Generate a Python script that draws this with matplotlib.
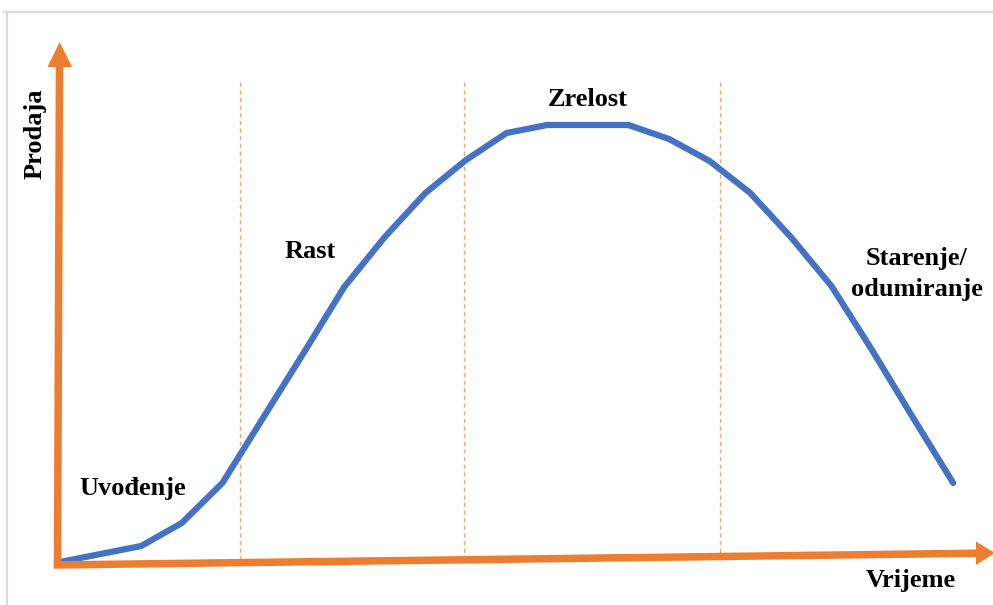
import matplotlib
matplotlib.use("Agg")
import matplotlib.pyplot as plt
from matplotlib.lines import Line2D
from matplotlib.patches import Polygon

# Data (period index vs. sales level)
periods = list(range(23))
sales = [4, 12, 20, 43, 83, 148, 213, 279, 329, 373, 406, 433, 441, 441, 441,
         427, 405, 373, 329, 280, 216, 149, 83]
phase_bounds = [4.43, 9.95, 16.26]
phase_labels = ["Uvođenje", "Rast", "Zrelost", "Starenje/\nodumiranje"]
x_label = "Vrijeme"
y_label = "Prodaja"

W, H = 993, 605
fig = plt.figure(figsize=(W / 100, H / 100), dpi=100)
ax = fig.add_axes([0, 0, 1, 1])
ax.set_xlim(-60 / 40.6, (W - 60) / 40.6)
ax.set_ylim(566 - H, 566)
ax.axis("off")

orange = "#ED7D31"
blue = "#4472C4"


def fp(x, y):
    """pixel (top-left origin) -> figure fraction"""
    return (x / W, 1 - y / H)


# phase separators
for b in phase_bounds:
    ax.plot([b, b], [6, 485], color="#F4A46E", lw=1.0, ls=(0, (3, 2.5)), zorder=1)

# curve
ax.plot(periods, sales, color=blue, lw=4.5, solid_joinstyle="miter",
        solid_capstyle="round", zorder=3)

# axes arrows (shaft + head)
shaft_lw = 5.4
# y axis
(x0, y0), (x1, y1) = fp(57.5, 568), fp(59.5, 64)
fig.add_artist(Line2D([x0, x1], [y0, y1], color=orange, lw=shaft_lw,
                      solid_capstyle="butt", transform=fig.transFigure, zorder=5))
fig.add_artist(Polygon([fp(59.7, 42), fp(47.5, 67), fp(72, 67)], closed=True,
                       color=orange, transform=fig.transFigure, zorder=5, lw=0))
# x axis
(x0, y0), (x1, y1) = fp(53.8, 565), fp(980, 553.2)
fig.add_artist(Line2D([x0, x1], [y0, y1], color=orange, lw=shaft_lw,
                      solid_capstyle="butt", transform=fig.transFigure, zorder=5))
fig.add_artist(Polygon([fp(995, 553), fp(976, 541.5), fp(976, 565)], closed=True,
                       color=orange, transform=fig.transFigure, zorder=5, lw=0))

font = dict(family="Liberation Serif", fontweight="bold", fontsize=19, color="black")


def px(x, y):
    return ((x - 60) / 40.6, 566 - y)


positions = [(133, 488), (310, 251), (588, 99), (917, 274)]
for lab, (x, y) in zip(phase_labels, positions):
    ax.text(*px(x, y), lab, ha="center", va="center", linespacing=1.42, **font)

ax.text(*px(911, 581), x_label, ha="center", va="center", **font)
ax.text(*px(35, 134), y_label, ha="center", va="center", rotation=90, **font)

# frame lines of the picture
fig.add_artist(Line2D([4 / W, 1], [1 - 11.5 / H, 1 - 11.5 / H], color="#D9D9D9",
                      lw=1.6, transform=fig.transFigure))
fig.add_artist(Line2D([7 / W, 7 / W], [0, 1 - 11.5 / H], color="#D9D9D9",
                      lw=1.6, transform=fig.transFigure))

fig.savefig("out.png", dpi=100)
